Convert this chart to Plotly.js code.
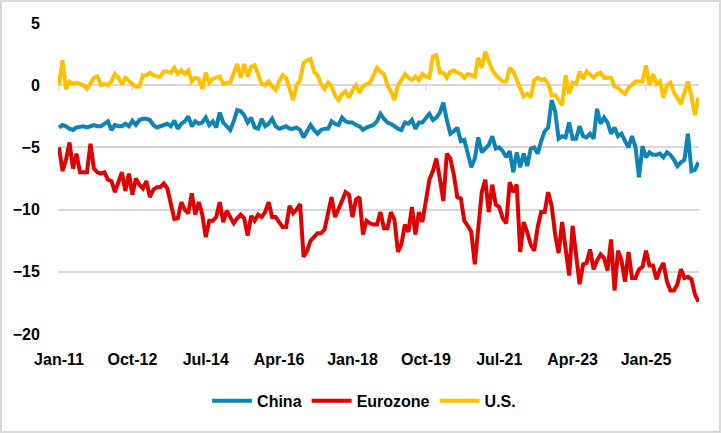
<!DOCTYPE html>
<html>
<head>
<meta charset="utf-8">
<script src="https://cdn.plot.ly/plotly-3.0.1.min.js"></script>
<style>
  body { margin: 0; background: #fff; }
  #chart {
    width: 721px;
    height: 433px;
    box-sizing: border-box;
    border: 2px solid #d9d9d9;
  }
</style>
</head>
<body>
<div id="chart"></div>
<script>
/* global Plotly */

// monthly readings, Jan-11 onwards
const china = [
  -3.4, -3.2, -3.3, -3.5, -3.6, -3.4, -3.35, -3.3, -3.4, -3.3,
  -3.2, -3.3, -3.3, -3.1, -2.9, -3.6, -3.2, -3.3, -3.3, -3.1,
  -3.3, -2.85, -3.2, -2.8, -2.7, -2.7, -2.8, -3.2, -3.4, -3.3,
  -3.2, -3.1, -3.3, -2.85, -3.5, -3.1, -2.9, -2.5, -3.3, -2.9,
  -3.1, -3.0, -2.6, -3.2, -2.9, -3.4, -2.2, -3.0, -3.3, -3.6,
  -2.9, -2.0, -2.1, -2.4, -3.0, -2.6, -3.4, -3.5, -2.7, -3.3,
  -3.1, -2.7, -3.3, -3.5, -3.4, -3.3, -3.5, -3.5, -3.4, -3.6,
  -4.2, -3.7, -3.2, -3.6, -3.9, -3.6, -3.5, -3.5, -2.9, -3.1,
  -3.2, -2.6, -2.9, -3.0, -3.0, -3.2, -3.3, -3.6, -3.4, -3.3,
  -3.2, -2.9, -2.3, -2.7, -3.0, -3.1, -3.3, -3.5, -3.6, -3.0,
  -3.1, -2.8, -3.5, -3.0, -3.0, -2.6, -2.3, -2.8, -2.6, -2.2,
  -1.4, -2.8, -3.9, -3.7, -3.4, -4.5, -4.4, -5.5, -6.6, -5.9,
  -4.2, -5.4, -5.1, -4.8, -4.1, -5.1, -5.0, -5.3, -5.8, -5.3,
  -7.0, -5.4, -6.6, -5.5, -6.5, -5.1, -5.0, -5.5, -4.5, -3.7,
  -3.4, -1.2, -2.1, -4.3, -4.1, -4.2, -3.0, -4.3, -4.3, -3.3,
  -4.1, -4.2, -3.9, -4.3, -1.9, -3.1, -2.6, -3.0, -3.9, -3.4,
  -4.1, -3.9, -4.5, -5.0, -4.1, -5.0, -7.4, -4.9, -5.8, -5.4,
  -5.6, -5.6, -5.5, -5.8, -5.4, -5.6, -6.0, -6.5, -6.2, -6.0,
  -3.9, -6.9, -6.8, -6.2,
];

const eurozone = [
  -5.0, -6.9, -6.0, -4.6, -6.7, -5.5, -7.0, -7.0, -7.0, -4.7,
  -6.7, -7.0, -7.1, -7.0, -7.6, -7.7, -8.6, -7.8, -7.0, -8.5,
  -7.1, -8.8, -7.5, -8.0, -8.3, -7.7, -9.0, -8.4, -8.2, -8.2,
  -7.9, -8.3, -9.5, -10.75, -10.7, -9.4, -10.0, -10.3, -8.7, -10.4,
  -9.4, -10.4, -12.2, -10.9, -10.9, -10.6, -9.4, -11.0, -10.1, -10.6,
  -11.1, -10.7, -10.4, -10.7, -12.1, -10.5, -10.9, -10.4, -10.6, -10.2,
  -9.4, -10.6, -10.6, -11.0, -11.4, -11.4, -9.7, -10.3, -10.0, -9.55,
  -13.8, -13.3, -12.5, -12.2, -11.9, -11.9, -11.6, -10.3, -9.0, -10.6,
  -10.0, -9.3, -8.6, -8.8, -10.6, -9.2, -9.0, -12.0, -10.9, -11.1,
  -11.2, -11.2, -10.2, -11.5, -11.5, -10.2, -10.8, -13.4, -12.8, -11.2,
  -11.8, -9.8, -12.0, -10.2, -11.0, -9.5, -7.6, -6.9, -5.9, -7.5,
  -9.3, -5.5, -5.9, -7.2, -9.0, -9.1, -10.9, -11.3, -11.8, -14.4,
  -11.5, -8.6, -7.6, -10.2, -8.0, -9.6, -9.8, -10.7, -11.1, -7.8,
  -8.6, -8.0, -13.4, -11.0, -11.8, -12.8, -13.3, -11.4, -10.2, -10.2,
  -8.6, -9.7, -12.0, -13.5, -11.0, -13.5, -15.3, -11.3, -13.5, -16.0,
  -14.4, -14.3, -13.2, -14.8, -14.1, -13.6, -13.9, -14.9, -12.4, -16.5,
  -13.3, -14.1, -15.8, -13.4, -15.5, -15.5, -14.8, -14.6, -13.3, -14.5,
  -14.5, -15.6, -14.8, -14.3, -15.8, -16.5, -16.5, -16.0, -14.8, -15.5,
  -15.4, -15.6, -16.8, -17.4,
];

const us = [
  0.0, 2.0, -0.3, 0.3, 0.1, 0.2, 0.1, 0.0, -0.3, 0.2,
  0.6, 0.7, 0.0, 0.1, 0.0, 0.3, 0.9, 0.6, 0.1, 0.6,
  0.3, 0.1, -0.1, -0.1, 0.8, 0.8, 1.0, 0.8, 0.7, 0.7,
  1.1, 1.1, 1.0, 1.4, 0.9, 1.2, 0.9, 1.2, 0.3, 0.6,
  0.5, -0.3, 1.0, 0.2, 0.5, 0.6, 0.7, 0.1, 0.2, 0.2,
  0.9, 1.7, 0.6, 1.7, 0.7, 1.5, 1.6, 0.9, 0.1, 0.0,
  0.3, -0.1, -0.4, 0.3, 0.8, 0.6, -0.3, -1.2, 0.0, 0.4,
  1.8, 2.0, 2.1, 1.1, 0.8, 0.1, -0.3, 0.2, -0.1, -0.8,
  -1.2, -0.7, -0.5, -1.0, -0.4, 0.0, -0.6, -0.1, 0.1, 0.2,
  0.8, 1.4, 1.1, 0.9, 0.0, -0.5, -1.2, 0.0, 0.4, 0.9,
  0.6, 0.4, 0.7, 0.4, 0.9, 0.7, 0.6, 2.3, 2.4, 1.0,
  1.0, 0.6, 1.1, 1.2, 1.0, 0.9, 0.6, 0.9, 0.8, 0.7,
  2.2, 1.4, 2.7, 2.0, 1.2, 0.8, 0.5, 0.3, 0.3, 1.4,
  1.1, 0.4, -0.4, -0.9, -0.7, -1.0, 0.4, 0.6, 0.4, 0.5,
  0.1, -0.8, -0.8, -1.2, -1.6, 0.8, -0.7, 0.2, 0.1, 1.1,
  0.5, 1.1, 0.8, 0.6, 0.9, 1.0, 0.6, 0.6, 0.6, -0.1,
  -0.2, -0.5, -0.7, -0.2, 0.1, 0.3, 0.3, 0.3, 1.6, 0.0,
  0.9, 0.1, 0.3, -1.0, 0.0, 0.2, -0.6, -1.0, -1.5, -0.6,
  0.3, -0.9, -2.4, -1.0,
];

const tickLabels = ['Jan-11', 'Oct-12', 'Jul-14', 'Apr-16', 'Jan-18',
  'Oct-19', 'Jul-21', 'Apr-23', 'Jan-25'];
const yTicks = [-20, -15, -10, -5, 0, 5];

const seriesNames = ['China', 'Eurozone', 'U.S.'];
const seriesColors = ['#0e84b4', '#e00000', '#ffc000'];

if (china.length !== us.length || eurozone.length !== us.length) {
  throw new Error(`length mismatch ${china.length} ${eurozone.length} ${us.length}`);
}

// month labels for each position (Jan-11, Feb-11, ...)
const monthNames = ['Jan', 'Feb', 'Mar', 'Apr', 'May', 'Jun',
  'Jul', 'Aug', 'Sep', 'Oct', 'Nov', 'Dec'];
const months = us.map((v, i) => `${monthNames[i % 12]}-${11 + Math.floor(i / 12)}`);
const idx = months.map((m, i) => i);
const tickVals = tickLabels.map(label => months.indexOf(label));

const tickFont = {
  family: 'Liberation Sans, Arial, sans-serif', size: 16, color: '#000', weight: 'bold',
};
const gridColor = '#d9d9d9';

const traces = [china, eurozone, us].map((values, i) => ({
  x: idx,
  y: values,
  type: 'scatter',
  mode: 'lines',
  name: seriesNames[i],
  line: { color: seriesColors[i], width: 4 },
  hoverinfo: 'skip',
}));

// Excel draws short tick marks hanging under the zero line
const zeroTicks = tickVals.map(v => ({
  type: 'line',
  xref: 'x',
  yref: 'y',
  ysizemode: 'pixel',
  yanchor: 0,
  x0: v,
  x1: v,
  y0: 0,
  y1: -5,
  layer: 'below',
  line: { color: gridColor, width: 1.5 },
}));

const layout = {
  width: 717,
  height: 429,
  margin: { l: 56, r: 20, t: 21, b: 97 },
  paper_bgcolor: '#fff',
  plot_bgcolor: '#fff',
  showlegend: true,
  legend: {
    orientation: 'h',
    xref: 'container',
    yref: 'container',
    x: 0.505,
    xanchor: 'center',
    y: 0.07,
    yanchor: 'middle',
    font: tickFont,
    itemwidth: 40,
  },
  shapes: zeroTicks,
  xaxis: {
    range: [-0.29, 183.17],
    tickmode: 'array',
    tickvals: tickVals,
    ticktext: tickLabels,
    showgrid: false,
    zeroline: false,
    showline: false,
    ticks: 'outside',
    ticklen: 11,
    tickcolor: 'rgba(0,0,0,0)',
    tickfont: tickFont,
  },
  yaxis: {
    range: [-20, 5],
    tickmode: 'array',
    tickvals: yTicks,
    showgrid: true,
    gridcolor: gridColor,
    gridwidth: 2,
    zeroline: true,
    zerolinecolor: gridColor,
    zerolinewidth: 2,
    showline: false,
    ticks: 'outside',
    ticklen: 14,
    tickcolor: 'rgba(0,0,0,0)',
    tickfont: tickFont,
  },
};

Plotly.newPlot('chart', traces, layout, { displayModeBar: false, staticPlot: true });
</script>
</body>
</html>
